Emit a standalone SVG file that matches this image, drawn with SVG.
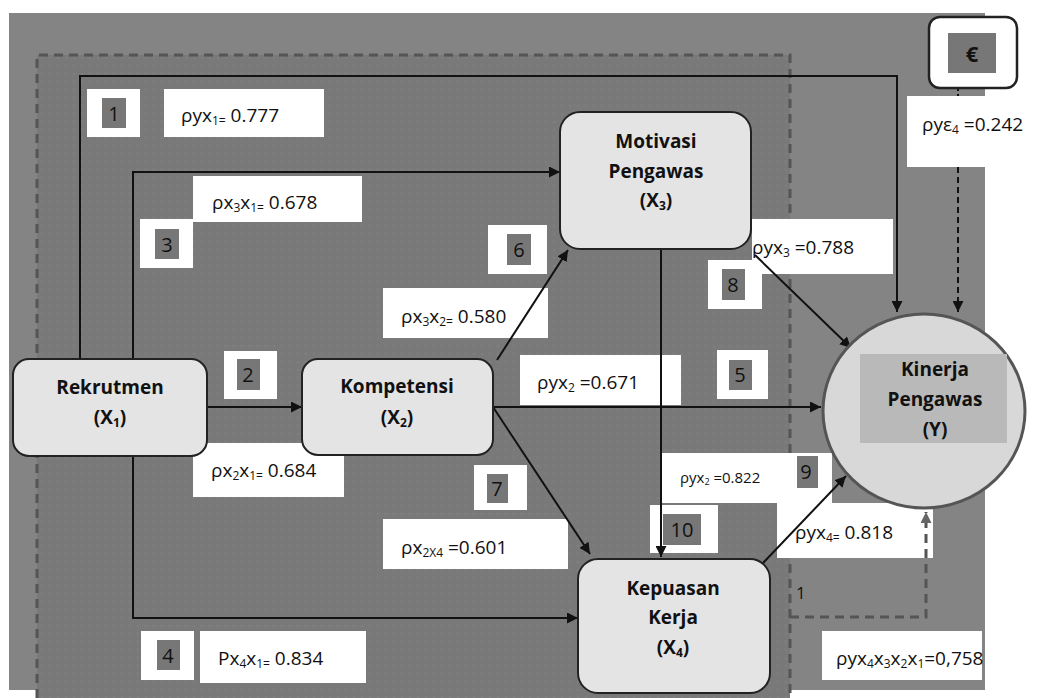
<svg xmlns="http://www.w3.org/2000/svg" width="1056" height="698" viewBox="0 0 1056 698">
<style>
text{font-family:"Open Sans","Noto Sans",sans-serif;fill:#111}
.nt{font-size:19px;font-weight:bold;text-anchor:middle}
.lb{font-size:19px}
.num{font-size:20px;text-anchor:middle}
.sb{font-size:12px}
.wb{fill:#fff}
.gs{fill:#777}
.node{fill:#e4e4e4;stroke:#222;stroke-width:2}
.con{fill:none;stroke:#111;stroke-width:2}
.dsh{fill:none;stroke:#555;stroke-width:3;stroke-dasharray:9 6}
</style>
<defs>
<marker id="ah" viewBox="0 0 10 10" refX="10" refY="5" markerWidth="11" markerHeight="11" markerUnits="userSpaceOnUse" orient="auto"><path d="M0,0 L10,5 L0,10 z" fill="#111"/></marker>
<marker id="ahg" viewBox="0 0 10 10" refX="10" refY="5" markerWidth="11" markerHeight="11" markerUnits="userSpaceOnUse" orient="auto"><path d="M0,0 L10,5 L0,10 z" fill="#666"/></marker>
<pattern id="dots" width="8" height="8" patternUnits="userSpaceOnUse"><rect width="8" height="8" fill="#797979"/><circle cx="2" cy="2" r="0.7" fill="#8c8c8c"/></pattern>
</defs>
<rect width="1056" height="698" fill="#fff"/>
<g id="background">
<rect x="9" y="13" width="976" height="677" fill="#848484"/>
<rect x="37" y="55" width="753" height="643" fill="url(#dots)"/>
<path class="dsh" d="M37,698 V55 H790 V698"/>
</g>
<g id="labels">
<rect class="wb" x="87" y="89" width="53" height="48"/><rect class="gs" x="102" y="98" width="24" height="30"/><text class="num" x="114" y="121">1</text>
<rect class="wb" x="164" y="89" width="160" height="48"/><text class="lb" x="181" y="122">ρyx<tspan class="sb" dy="3">1=</tspan><tspan dy="-3"> 0.777</tspan></text>
<rect class="wb" x="193" y="176" width="169" height="46"/><text class="lb" x="212" y="209">ρx<tspan class="sb" dy="3">3</tspan><tspan dy="-3">x</tspan><tspan class="sb" dy="3">1=</tspan><tspan dy="-3"> 0.678</tspan></text>
<rect class="wb" x="140" y="219" width="53" height="49"/><rect class="gs" x="155" y="229" width="24" height="30"/><text class="num" x="167" y="252">3</text>
<rect class="wb" x="488" y="225" width="59" height="49"/><rect class="gs" x="507" y="234" width="24" height="31"/><text class="num" x="519" y="257">6</text>
<rect class="wb" x="383" y="288" width="165" height="50"/><text class="lb" x="401" y="323">ρx<tspan class="sb" dy="3">3</tspan><tspan dy="-3">x</tspan><tspan class="sb" dy="3">2=</tspan><tspan dy="-3"> 0.580</tspan></text>
<rect class="wb" x="224" y="351" width="53" height="48"/><rect class="gs" x="237" y="359" width="23" height="31"/><text class="num" x="248" y="382">2</text>
<rect class="wb" x="193" y="443" width="151" height="54"/><text class="lb" x="211" y="477">ρx<tspan class="sb" dy="3">2</tspan><tspan dy="-3">x</tspan><tspan class="sb" dy="3">1=</tspan><tspan dy="-3"> 0.684</tspan></text>
<rect class="wb" x="474" y="465" width="53" height="45"/><rect class="gs" x="487" y="474" width="21" height="29"/><text class="num" x="497" y="496">7</text>
<rect class="wb" x="383" y="519" width="185" height="50"/><text class="lb" x="401" y="554">ρx<tspan class="sb" dy="3">2X4</tspan><tspan dy="-3"> =0.601</tspan></text>
<rect class="wb" x="141" y="631" width="53" height="49"/><rect class="gs" x="157" y="640" width="23" height="30"/><text class="num" x="168" y="663">4</text>
<rect class="wb" x="200" y="631" width="166" height="52"/><text class="lb" x="218" y="665">Px<tspan class="sb" dy="3">4</tspan><tspan dy="-3">x</tspan><tspan class="sb" dy="3">1=</tspan><tspan dy="-3"> 0.834</tspan></text>
<rect class="wb" x="520" y="355" width="161" height="50"/><text class="lb" x="537" y="389">ρyx<tspan class="sb" dy="3">2</tspan><tspan dy="-3"> =0.671</tspan></text>
<rect class="wb" x="717" y="350" width="51" height="49"/><rect class="gs" x="729" y="360" width="23" height="30"/><text class="num" x="740" y="382">5</text>
<rect class="wb" x="752" y="219" width="141" height="55"/><text class="lb" x="752" y="254">ρyx<tspan class="sb" dy="3">3</tspan><tspan dy="-3"> =0.788</tspan></text>
<rect class="wb" x="708" y="260" width="54" height="49"/><rect class="gs" x="722" y="269" width="23" height="31"/><text class="num" x="733" y="292">8</text>
<rect class="wb" x="907" y="96" width="149" height="71"/><text class="lb" x="922" y="131">ρyε<tspan class="sb" dy="3">4</tspan><tspan dy="-3"> =0.242</tspan></text>
<rect class="wb" x="661" y="453" width="171" height="50"/><text x="680" y="483" style="font-size:15px">ρyx<tspan style="font-size:9px" dy="2">2</tspan><tspan dy="-2"> =0.822</tspan></text>
<rect class="gs" x="797" y="456" width="21" height="32"/><text class="num" x="806" y="479">9</text>
<rect class="wb" x="650" y="505" width="68" height="48"/><rect class="gs" x="663" y="514" width="38" height="31"/><text class="num" x="682" y="537">10</text>
<rect class="wb" x="777" y="503" width="156" height="55"/><text class="lb" x="795" y="539">ρyx<tspan class="sb" dy="3">4=</tspan><tspan dy="-3"> 0.818</tspan></text>
<rect class="wb" x="822" y="631" width="160" height="49"/><text class="lb" x="836" y="665">ρyx<tspan class="sb" dy="3">4</tspan><tspan dy="-3">x</tspan><tspan class="sb" dy="3">3</tspan><tspan dy="-3">x</tspan><tspan class="sb" dy="3">2</tspan><tspan dy="-3">x</tspan><tspan class="sb" dy="3">1</tspan><tspan dy="-3">=0,758</tspan></text>
<text x="796" y="599" style="font-size:17px">1</text>
</g>
<g id="connectors">
<path class="con" d="M80,359 V76 H897 V312" marker-end="url(#ah)"/>
<path class="con" d="M133,359 V172 H560" marker-end="url(#ah)"/>
<path class="con" d="M207,407 H302" marker-end="url(#ah)"/>
<path class="con" d="M133,456 V618 H578" marker-end="url(#ah)"/>
<path class="con" d="M493,407 H821" marker-end="url(#ah)"/>
<path class="con" d="M497,360 L568,250" marker-end="url(#ah)"/>
<path class="con" d="M493,407 L590,554" marker-end="url(#ah)"/>
<path class="con" d="M755,255 L851,348" marker-end="url(#ah)"/>
<path class="con" d="M661,249 V557" marker-end="url(#ah)"/>
<path class="con" d="M763,563 L846,476" marker-end="url(#ah)"/>
<path class="con" d="M958,88 V96" stroke-dasharray="3 3"/>
<path class="con" d="M958,167 V312" stroke-dasharray="6 4" marker-end="url(#ah)"/>
<path class="dsh" d="M790,617 H926 V512" marker-end="url(#ahg)"/>
</g>
<g id="epsilon">
<rect x="929" y="17" width="88" height="71" rx="11" fill="#fff" stroke="#222" stroke-width="2.5"/>
<rect class="gs" x="948" y="33" width="48" height="40"/>
<text x="972" y="62" style="font-size:22px;font-weight:bold;text-anchor:middle">€</text>
</g>
<g id="rekrutmen">
<rect class="node" x="13" y="359" width="194" height="97" rx="16"/>
<text class="nt" x="110" y="394">Rekrutmen</text>
<text class="nt" x="110" y="424">(X<tspan class="sb" dy="3">1</tspan><tspan dy="-3">)</tspan></text>
</g>
<g id="kompetensi">
<rect class="node" x="302" y="359" width="191" height="96" rx="16"/>
<text class="nt" x="397" y="393">Kompetensi</text>
<text class="nt" x="397" y="424">(X<tspan class="sb" dy="3">2</tspan><tspan dy="-3">)</tspan></text>
</g>
<g id="motivasi">
<rect class="node" x="560" y="112" width="191" height="137" rx="20"/>
<text class="nt" x="656" y="148">Motivasi</text>
<text class="nt" x="656" y="178">Pengawas</text>
<text class="nt" x="656" y="207">(X<tspan class="sb" dy="3">3</tspan><tspan dy="-3">)</tspan></text>
</g>
<g id="kepuasan">
<rect class="node" x="578" y="559" width="192" height="134" rx="20"/>
<text class="nt" x="673" y="595">Kepuasan</text>
<text class="nt" x="673" y="624">Kerja</text>
<text class="nt" x="673" y="654">(X<tspan class="sb" dy="3">4</tspan><tspan dy="-3">)</tspan></text>
</g>
<g id="kinerja">
<ellipse cx="924" cy="411" rx="101" ry="97" fill="#d8d8d8" stroke="#555" stroke-width="3"/>
<rect x="860" y="354" width="147" height="89" fill="#b9b9b9"/>
<text class="nt" x="935" y="376">Kinerja</text>
<text class="nt" x="935" y="406">Pengawas</text>
<text class="nt" x="935" y="436">(Y)</text>
</g>
</svg>
